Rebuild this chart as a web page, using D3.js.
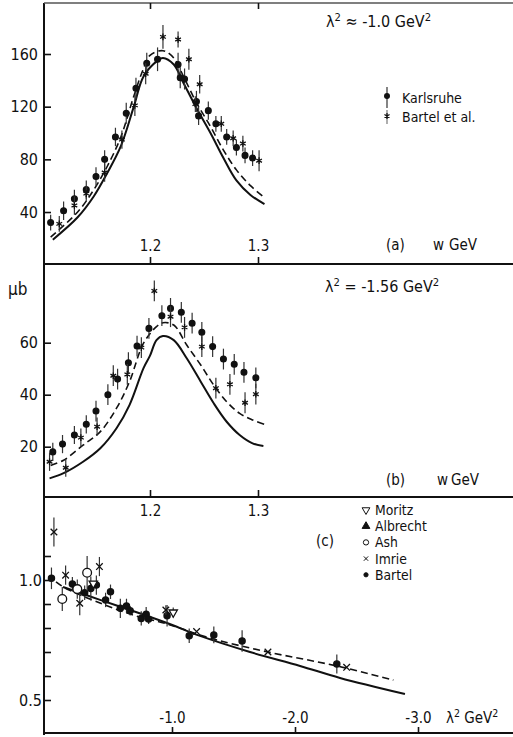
<!DOCTYPE html>
<html>
<head>
<meta charset="utf-8">
<script src="https://cdn.jsdelivr.net/npm/d3@7"></script>
<style>
  body { margin: 0; background: #fff; }
  svg text { font-family: "Liberation Sans Narrow", "DejaVu Sans Condensed", "Roboto Condensed", sans-serif; fill: #111; }
</style>
</head>
<body>
<svg id="chart" width="513" height="737"></svg>
<script>
// panel (a) : lambda^2 = -1.0, [w, sigma, err]
var karlsruheA = [[1.108,32,6],[1.120,41,7],[1.130,50,7],[1.141,57,7],[1.150,67,7],[1.158,80,7],[1.168,97,7],
    [1.178,115,8],[1.187,134,8],[1.197,153,8],[1.207,156,9],[1.226,152,9],[1.228,142,8],[1.232,141,8],
    [1.243,124,8],[1.245,113,7],[1.254,117,7],[1.261,107,6],[1.271,97,6],[1.280,89,6],[1.288,83,6],[1.295,81,6]];
var bartelA = [[1.116,31,6],[1.130,45,7],[1.141,54,6],[1.158,70,7],[1.174,95,7],[1.186,121,8],[1.196,145,8],
    [1.212,173,9],[1.226,171,6],[1.236,156,8],[1.246,137,7],[1.242,122,6],[1.266,107,6],[1.277,96,6],
    [1.286,92,6],[1.301,79,8]];
var solidA = [[1.110,19],[1.133,36],[1.148,52],[1.160,69],[1.173,90],[1.185,120],[1.194,143],[1.207,155],
    [1.212,157],[1.222,152],[1.231,138],[1.243,119],[1.256,100],[1.268,81],[1.280,64],[1.293,53],[1.306,46]];
var dashA = [[1.108,21],[1.133,40],[1.148,57],[1.160,74],[1.173,97],[1.185,128],[1.194,149],[1.200,159],
    [1.212,162.5],[1.222,157],[1.231,143],[1.243,123],[1.256,105],[1.268,87],[1.280,72],[1.293,60],[1.306,51]];

// panel (b) : lambda^2 = -1.56
var karlsruheB = [[1.110,18,3.5],[1.119,21,3.5],[1.130,24.5,3.5],[1.141,28.6,3.5],[1.150,33.7,4],[1.161,40,4],
    [1.170,46,4],[1.180,52.3,4],[1.188,58.7,4],[1.199,65.5,4],[1.211,70.4,4],[1.219,73.2,4],[1.229,71.7,4],
    [1.239,67.5,4],[1.248,64,4],[1.258,58.5,4],[1.268,53.7,4],[1.278,51.7,4],[1.287,48.6,4],[1.298,46.5,4]];
var bartelB = [[1.107,14.2,3.5],[1.122,11.9,3.5],[1.136,23.5,3.5],[1.151,27.7,3.5],[1.166,47.3,4],[1.179,47.8,4],
    [1.192,58.1,4],[1.204,79.9,4],[1.219,70,4],[1.232,65.9,4],[1.248,58.5,4],[1.261,42.5,4],[1.274,44,4],
    [1.288,36.9,4],[1.298,40.2,4]];
var solidB = [[1.107,7.8],[1.120,9.8],[1.138,14.2],[1.154,19.4],[1.169,27.1],[1.181,36],[1.194,50.2],
    [1.200,55],[1.206,61],[1.212,62.6],[1.222,61],[1.234,54],[1.247,45],[1.259,36.7],[1.271,29.6],
    [1.283,24.5],[1.295,21.3],[1.305,20.3]];
var dashB = [[1.108,12.8],[1.120,14.8],[1.138,20.6],[1.154,25.8],[1.169,34.8],[1.181,45],[1.194,59.8],
    [1.206,66.2],[1.212,67.7],[1.222,66.8],[1.234,59.1],[1.247,51.4],[1.259,43.7],[1.271,37.3],
    [1.283,32.8],[1.295,30.3],[1.306,28.6]];

// panel (c) : ratio vs lambda^2
var bartelC = [[-0.02,1.007,0.045],[-0.19,0.983,0.03],[-0.29,0.947,0.03],[-0.34,0.965,0.05],[-0.385,0.979,0.04],
    [-0.46,0.917,0.03],[-0.50,0.951,0.03],[-0.58,0.882,0.04],[-0.63,0.892,0.03],[-0.66,0.872,0.02],
    [-0.75,0.840,0.03],[-0.79,0.857,0.03],[-0.81,0.837,0.02],[-0.96,0.851,0.045],[-1.14,0.768,0.03],
    [-1.34,0.771,0.035],[-1.57,0.746,0.045],[-2.34,0.65,0.04]];
var imrieC = [[-0.04,1.20,0.06],[-0.135,1.02,0.04],[-0.25,0.903,0.05],[-0.41,1.056,0.04],[-0.95,0.875,0.02],
    [-1.20,0.785,0],[-1.78,0.70,0],[-2.42,0.636,0]];
var ashC = [[-0.108,0.921,0.05],[-0.23,0.962,0.04],[-0.31,1.03,0.07]];
var moritzC = [[-0.36,0.985,0],[-1.01,0.865,0.02]];
var albrechtC = [];
var solidC = [[-0.114,0.971],[-0.415,0.917],[-0.683,0.871],[-0.959,0.821],[-1.228,0.767],[-1.634,0.700],
    [-2.041,0.642],[-2.366,0.592],[-2.894,0.525]];
var dashC = [[-0.057,0.992],[-0.13,0.967],[-0.415,0.904],[-0.683,0.854],[-0.959,0.817],[-1.31,0.758],
    [-1.78,0.700],[-2.34,0.642],[-2.80,0.583]];

var ticksW = [1.2, 1.3];
var ticksA = [40, 80, 120, 160];
var ticksB = [20, 40, 60];
var ticksC = [0.5, 0.6, 0.7, 0.8, 0.9, 1.0, 1.1];
var labelsC = [0.5, 1.0];
var ticksL = [-1, -2, -3];
var legendC = ["Moritz", "Albrecht", "Ash", "Imrie", "Bartel"];

var svg = d3.select("#chart");
var ink = "#111";

var xW = d3.scaleLinear().domain([1.2, 1.3]).range([150, 258]);
var yA = d3.scaleLinear().domain([0, 160]).range([264.7, 54]);
var yB = d3.scaleLinear().domain([20, 60]).range([446.7, 342.7]);
var xC = d3.scaleLinear().domain([0, -3]).range([49, 418]);
var yC = d3.scaleLinear().domain([0.5, 1.0]).range([700, 580]);

// frame
var frame = svg.append("g").attr("stroke", ink).attr("stroke-width", 2);
frame.append("line").attr("x1", 44).attr("x2", 44).attr("y1", 3).attr("y2", 735);
frame.append("line").attr("x1", 44).attr("x2", 513).attr("y1", 3).attr("y2", 3).attr("stroke", "#555").attr("stroke-width", 1.5);
[264, 497, 733].forEach(function (y) {
    frame.append("line").attr("x1", 44).attr("x2", 513).attr("y1", y).attr("y2", y);
});

function styleAxis(g, fs) {
    g.select(".domain").remove();
    g.selectAll(".tick line").attr("stroke", ink).attr("stroke-width", 1.6);
    g.selectAll(".tick text").attr("font-size", fs).attr("fill", ink);
}

// y axes
svg.append("g").attr("transform", "translate(44,0)")
    .call(d3.axisLeft(yA).tickValues(ticksA).tickSize(-7).tickPadding(6))
    .call(styleAxis, 16);
svg.append("g").attr("transform", "translate(44,0)")
    .call(d3.axisLeft(yB).tickValues(ticksB).tickSize(-7).tickPadding(6))
    .call(styleAxis, 16);
svg.append("g").attr("transform", "translate(44,0)")
    .call(d3.axisLeft(yC).tickValues(ticksC).tickSize(-7).tickPadding(2)
        .tickFormat(function (d) { return labelsC.indexOf(d) >= 0 ? d.toFixed(1) : ""; }))
    .call(styleAxis, 16);

// w axes
svg.append("g").attr("transform", "translate(0,3)")
    .call(d3.axisBottom(xW).tickValues(ticksW).tickSize(6).tickFormat(""))
    .call(styleAxis, 15);
svg.append("g").attr("transform", "translate(0,264)")
    .call(d3.axisTop(xW).tickValues(ticksW).tickSize(7).tickPadding(6).tickFormat(d3.format(".1f")))
    .call(styleAxis, 15);
svg.append("g").attr("transform", "translate(0,497)")
    .call(d3.axisBottom(xW).tickValues(ticksW).tickSize(-7).tickPadding(8).tickFormat(d3.format(".1f")))
    .call(styleAxis, 15);
// lambda^2 axis
svg.append("g").attr("transform", "translate(0,733)")
    .call(d3.axisTop(xC).tickValues(ticksL).tickSize(6).tickPadding(4)
        .tickFormat(function (d) { return d.toFixed(1); }))
    .call(styleAxis, 15);

// curves
function drawCurve(data, x, y, dashed, width) {
    svg.append("path")
        .datum(data)
        .attr("fill", "none")
        .attr("stroke", ink)
        .attr("stroke-width", width)
        .attr("stroke-dasharray", dashed ? "7,4" : null)
        .attr("d", d3.line().curve(d3.curveCatmullRom.alpha(0.5))
            .x(function (d) { return x(d[0]); })
            .y(function (d) { return y(d[1]); }));
}
drawCurve(solidA, xW, yA, false, 2);
drawCurve(dashA, xW, yA, true, 1.6);
drawCurve(solidB, xW, yB, false, 2);
drawCurve(dashB, xW, yB, true, 1.6);
drawCurve(solidC, xC, yC, false, 2);
drawCurve(dashC, xC, yC, true, 1.6);

// points with error bars
function drawPoints(data, x, y, symbol, size, fill, rot) {
    var g = svg.append("g");
    g.selectAll("line").data(data.filter(function (d) { return d[2] > 0; })).join("line")
        .attr("x1", function (d) { return x(d[0]); })
        .attr("x2", function (d) { return x(d[0]); })
        .attr("y1", function (d) { return y(d[1] - d[2]); })
        .attr("y2", function (d) { return y(d[1] + d[2]); })
        .attr("stroke", "#333").attr("stroke-width", 1.2);
    g.selectAll("path").data(data).join("path")
        .attr("transform", function (d) { return "translate(" + x(d[0]) + "," + y(d[1]) + ")" + (rot ? " rotate(" + rot + ")" : ""); })
        .attr("d", d3.symbol().type(symbol).size(size))
        .attr("fill", fill)
        .attr("stroke", ink)
        .attr("stroke-width", 1.3);
}
drawPoints(karlsruheA, xW, yA, d3.symbolCircle, 26, ink);
drawPoints(bartelA, xW, yA, d3.symbolAsterisk, 30, "none");
drawPoints(karlsruheB, xW, yB, d3.symbolCircle, 26, ink);
drawPoints(bartelB, xW, yB, d3.symbolAsterisk, 30, "none");
drawPoints(bartelC, xC, yC, d3.symbolCircle, 30, ink);
drawPoints(imrieC, xC, yC, d3.symbolX, 30, "none");
drawPoints(ashC, xC, yC, d3.symbolCircle, 60, "#fff");
drawPoints(moritzC, xC, yC, d3.symbolTriangle, 30, "#fff", 180);
drawPoints(albrechtC, xC, yC, d3.symbolTriangle, 30, ink);

// text with optional superscripts
function label(x, y, parts, fs) {
    var t = svg.append("text").attr("x", x).attr("y", y).attr("font-size", fs);
    var up = false;
    parts.forEach(function (p) {
        var s = t.append("tspan");
        if (typeof p === "string") {
            s.text(p).attr("dy", up ? fs * 0.4 : 0);
            up = false;
        } else {
            s.text(p.sup).attr("font-size", fs * 0.7).attr("dy", -fs * 0.4);
            up = true;
        }
    });
    return t;
}

label(326, 27, ["\u03bb", {sup: "2"}, " \u2248 -1.0 GeV", {sup: "2"}], 16);
label(325, 292, ["\u03bb", {sup: "2"}, " = -1.56 GeV", {sup: "2"}], 16);
label(8, 295, ["\u03bcb"], 17);
label(386, 250, ["(a)"], 15);
label(433, 250, ["w"], 15);
label(449, 250, ["GeV"], 15);
label(386, 485, ["(b)"], 15);
label(437, 485, ["w"], 15);
label(451, 485, ["GeV"], 15);
label(316, 546, ["(c)"], 15);
label(446, 723, ["\u03bb", {sup: "2"}, " GeV", {sup: "2"}], 15);

// legend (a)
var legA = svg.append("g");
legA.append("line").attr("x1", 387).attr("x2", 387).attr("y1", 87).attr("y2", 108).attr("stroke", "#333").attr("stroke-width", 1.2);
legA.append("path").attr("transform", "translate(387,96)").attr("d", d3.symbol().type(d3.symbolCircle).size(28)).attr("fill", ink);
legA.append("line").attr("x1", 387).attr("x2", 387).attr("y1", 110).attr("y2", 124).attr("stroke", "#777").attr("stroke-width", 1.2);
legA.append("path").attr("transform", "translate(387,116)").attr("d", d3.symbol().type(d3.symbolAsterisk).size(24)).attr("fill", "none").attr("stroke", ink).attr("stroke-width", 1.2);
label(402, 103, ["Karlsruhe"], 14);
label(402, 122, ["Bartel et al."], 14);

// legend (c)
var legSyms = [[d3.symbolTriangle, "#fff", 180, 26], [d3.symbolTriangle, ink, 0, 26], [d3.symbolCircle, "#fff", 0, 22],
    [d3.symbolX, "none", 0, 14], [d3.symbolCircle, ink, 0, 14]];
legendC.forEach(function (name, i) {
    var y = 515 + i * 16.2;
    var s = legSyms[i];
    svg.append("path")
        .attr("transform", "translate(366," + (y - 5) + ") rotate(" + s[2] + ")")
        .attr("d", d3.symbol().type(s[0]).size(s[3]))
        .attr("fill", s[1]).attr("stroke", ink).attr("stroke-width", 1);
    label(375, y, [name], 13.8);
});
</script>
</body>
</html>
